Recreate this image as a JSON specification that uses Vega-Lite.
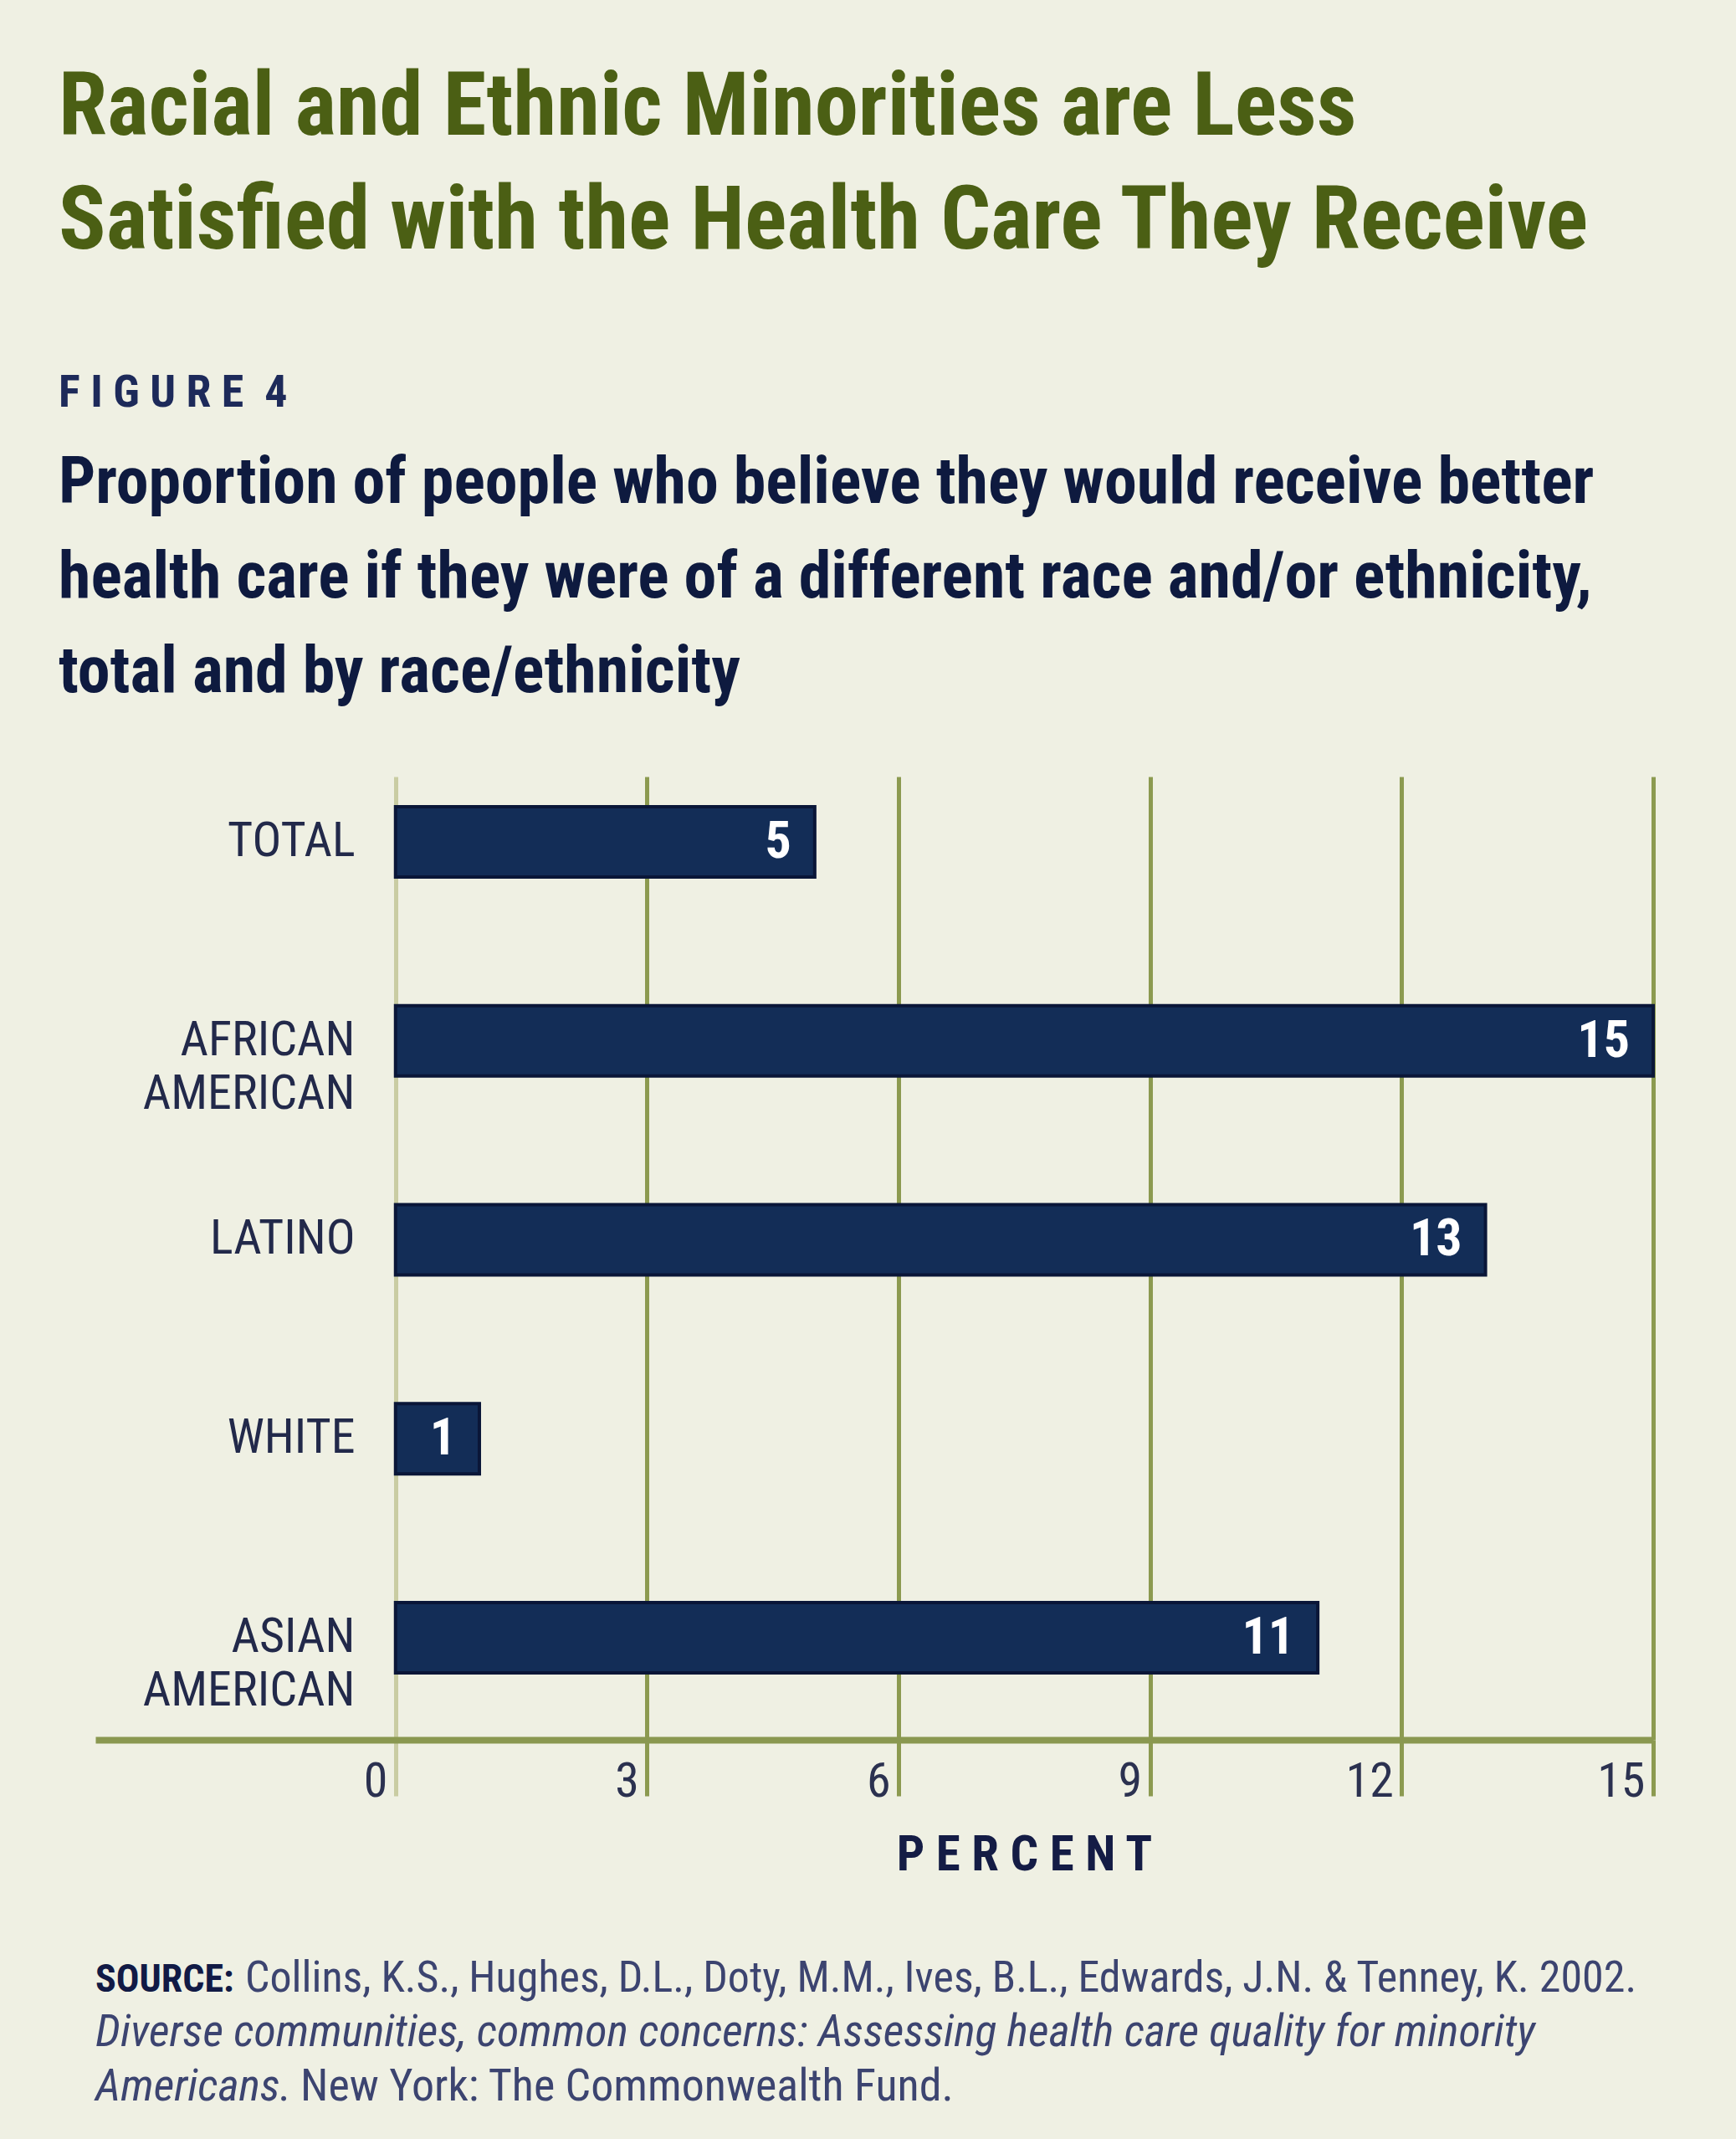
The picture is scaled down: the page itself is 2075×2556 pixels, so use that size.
{
  "$schema": "https://vega.github.io/schema/vega-lite/v6.json",
  "background": "#eff0e3",
  "padding": {"left": 70, "top": 77, "right": 120, "bottom": 60},
  "config": {
    "view": {"stroke": null},
    "font": "Roboto Condensed",
    "concat": {"spacing": 92}
  },
  "title": {
    "text": ["Racial and Ethnic Minorities are Less", "Satisfied with the Health Care They Receive"],
    "subtitle": "F I G U R E \u00a04",
    "anchor": "start",
    "font": "Roboto Condensed",
    "fontSize": 105,
    "fontWeight": "bold",
    "color": "#4b5f14",
    "lineHeight": 136,
    "subtitleFont": "Roboto Condensed",
    "subtitleFontSize": 54,
    "subtitleFontWeight": "bold",
    "subtitleColor": "#1d2a5a",
    "subtitlePadding": 124,
    "offset": 41
  },
  "vconcat": [
    {
      "width": 1862,
      "height": 1151,
      "title": {
        "text": ["Proportion of people who believe they would receive better", "health care if they were of a different race and/or ethnicity,", "total and by race/ethnicity"],
        "anchor": "start",
        "font": "Roboto Condensed",
        "fontSize": 78,
        "fontWeight": "bold",
        "color": "#0e1a3f",
        "lineHeight": 113,
        "offset": 85,
        "dx": -44
      },
      "data": {
        "values": [
          {"group": "TOTAL", "percent": 5},
          {"group": "AFRICAN AMERICAN", "percent": 15},
          {"group": "LATINO", "percent": 13},
          {"group": "WHITE", "percent": 1},
          {"group": "ASIAN AMERICAN", "percent": 11}
        ]
      },
      "encoding": {
        "y": {
          "field": "group",
          "type": "nominal",
          "sort": null,
          "scale": {"paddingInner": 0.647, "paddingOuter": 0.244, "align": 0.31},
          "axis": {
            "orient": "left",
            "offset": -359,
            "domain": false,
            "ticks": false,
            "grid": false,
            "title": null,
            "labelPadding": 49,
            "labelFont": "Roboto Condensed",
            "labelFontSize": 58,
            "labelColor": "#22294a",
            "labelExpr": "split(datum.value, ' ')",
            "labelLineHeight": 64,
            "labelBaseline": "middle",
            "labelAlign": "right",
            "labelLimit": 0
          }
        },
        "x": {
          "field": "percent",
          "type": "quantitative",
          "scale": {"domain": [-3.58, 15], "nice": false, "zero": false},
          "axis": {
            "values": [0, 3, 6, 9, 12, 15],
            "title": "P E R C E N T",
            "grid": true,
            "gridColor": {"condition": {"test": "datum.value === 0", "value": "#c9cca2"}, "value": "#8c9a50"},
            "gridWidth": 5,
            "tickColor": {"condition": {"test": "datum.value === 0", "value": "#c9cca2"}, "value": "#8c9a50"},
            "tickWidth": 5,
            "tickSize": 67,
            "domainColor": "#8a9850",
            "domainWidth": 8,
            "labelAlign": "right",
            "labelBaseline": "top",
            "labelPadding": -46,
            "labelOffset": -10,
            "labelFont": "Roboto Condensed",
            "labelFontSize": 58,
            "labelColor": "#2b3150",
            "labelFlush": false,
            "labelOverlap": false,
            "titleFont": "Roboto Condensed",
            "titleFontSize": 59,
            "titleFontWeight": "bold",
            "titleColor": "#141c45",
            "titleX": 1110,
            "titleY": 155,
            "titleBaseline": "alphabetic",
            "titleAlign": "center"
          }
        }
      },
      "layer": [
        {
          "mark": {"type": "bar", "fill": "#132d57", "stroke": "#0a1638", "strokeWidth": 4}
        },
        {
          "mark": {"type": "text", "align": "right", "baseline": "middle", "dx": -28, "color": "#ffffff", "fontSize": 62, "fontWeight": "bold", "font": "Roboto Condensed"},
          "encoding": {"text": {"field": "percent", "type": "quantitative"}}
        }
      ]
    },
    {
      "width": 1862,
      "height": 130,
      "data": {
        "values": [
          {"line": 1, "part": "label", "text": "SOURCE:"},
          {"line": 1, "part": "citation", "text": "Collins, K.S., Hughes, D.L., Doty, M.M., Ives, B.L., Edwards, J.N. & Tenney, K. 2002."},
          {"line": 2, "part": "title", "text": "Diverse communities, common concerns: Assessing health care quality for minority"},
          {"line": 3, "part": "title", "text": "Americans."},
          {"line": 3, "part": "publisher", "text": "New York: The Commonwealth Fund."}
        ]
      },
      "encoding": {
        "x": {"datum": 0, "type": "quantitative", "scale": {"domain": [0, 1]}, "axis": null},
        "y": {"field": "line", "type": "ordinal", "scale": {"type": "point", "padding": 0}, "axis": null},
        "text": {"field": "text"}
      },
      "layer": [
        {
          "transform": [{"filter": "datum.part === 'label'"}],
          "mark": {"type": "text", "align": "left", "baseline": "alphabetic", "fontSize": 46, "fontWeight": "bold", "color": "#111a45", "font": "Roboto Condensed"}
        },
        {
          "transform": [{"filter": "datum.part === 'citation'"}],
          "mark": {"type": "text", "align": "left", "baseline": "alphabetic", "fontSize": 52, "dx": 179, "color": "#3c4470", "font": "Roboto Condensed"}
        },
        {
          "transform": [{"filter": "datum.part === 'title'"}],
          "mark": {"type": "text", "align": "left", "baseline": "alphabetic", "fontSize": 54, "fontStyle": "italic", "color": "#3c4470", "font": "Roboto Condensed"}
        },
        {
          "transform": [{"filter": "datum.part === 'publisher'"}],
          "mark": {"type": "text", "align": "left", "baseline": "alphabetic", "fontSize": 54, "dx": 245, "color": "#3c4470", "font": "Roboto Condensed"}
        }
      ]
    }
  ]
}
